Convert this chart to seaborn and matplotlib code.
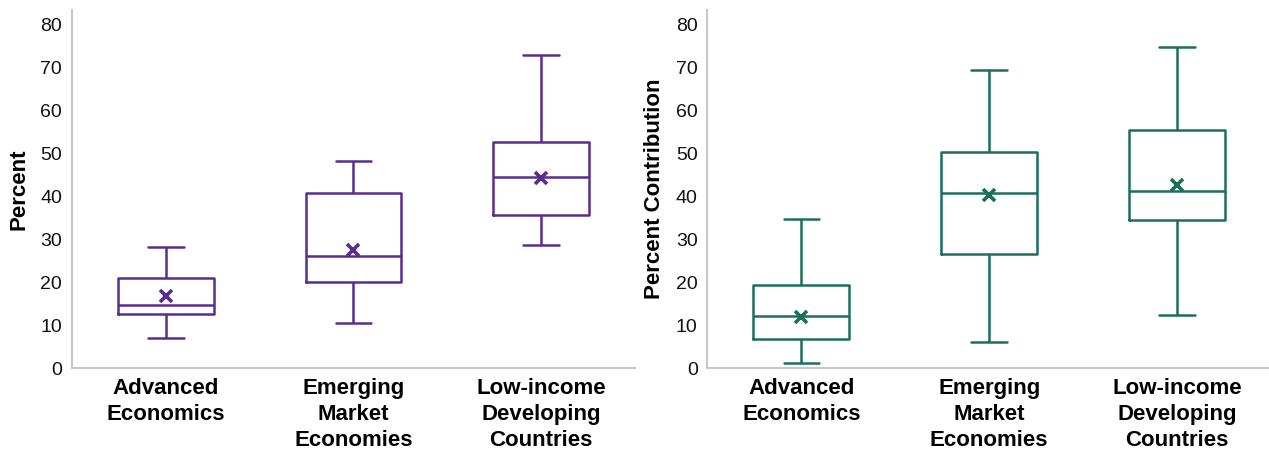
import matplotlib
matplotlib.use("Agg")
import matplotlib.pyplot as plt
import seaborn as sns
import pandas as pd

# Country groups (x-axis)
groups = ["Advanced\nEconomics", "Emerging\nMarket\nEconomies", "Low-income\nDeveloping\nCountries"]

# Left panel: distribution summary (percent)
left_min = [6.9, 10.5, 28.7]
left_q1 = [12.6, 20.0, 35.6]
left_median = [14.8, 26.2, 44.5]
left_q3 = [21.1, 40.9, 52.7]
left_max = [28.3, 48.2, 73.1]
left_mean = [16.9, 27.5, 44.2]

# Right panel: distribution summary (percent contribution)
right_min = [1.1, 6.1, 12.4]
right_q1 = [6.8, 26.6, 34.5]
right_median = [12.2, 40.7, 41.3]
right_q3 = [19.3, 50.4, 55.5]
right_max = [34.7, 69.6, 74.8]
right_mean = [11.8, 40.3, 42.7]

yticks = [0, 10, 20, 30, 40, 50, 60, 70, 80]

purple = "#5B2C8F"
green = "#1B6F5C"
spine_color = "#c8c8c8"

sns.set_style("white")
plt.rcParams["font.family"] = ["Liberation Sans", "DejaVu Sans"]


def summary_frame(mins, q1s, meds, q3s, maxs):
    rows = []
    for g, a, b, c, d, e in zip(groups, mins, q1s, meds, q3s, maxs):
        for v in (a, b, c, d, e):
            rows.append({"group": g, "value": v})
    return pd.DataFrame(rows)


def draw_panel(ax, df, means, color, ylabel):
    sns.boxplot(data=df, x="group", y="value", order=groups, whis=(0, 100),
                width=0.51, fill=False, color=color, linewidth=1.8,
                capwidths=0.19, showfliers=False, ax=ax)
    sns.pointplot(x=groups, y=means, order=groups, linestyle="none",
                  marker="x", color=color, markersize=8, markeredgewidth=2.6,
                  errorbar=None, ax=ax)
    ax.set_xlim(-0.5, 2.5)
    ax.set_ylim(0, 83.5)
    ax.set_yticks(yticks)
    ax.set_xlabel("")
    ax.set_ylabel(ylabel, fontsize=16, fontweight="bold", labelpad=7.5,
                  color="#000000")
    ax.tick_params(axis="y", length=0, pad=7, labelsize=14, labelcolor="#111111")
    ax.tick_params(axis="x", length=0, pad=7, labelsize=16, labelcolor="#000000")
    for lbl in ax.get_xticklabels():
        lbl.set_fontweight("bold")
        lbl.set_linespacing(1.33)
    for side in ("top", "right"):
        ax.spines[side].set_visible(False)
    for side in ("left", "bottom"):
        ax.spines[side].set_color(spine_color)
        ax.spines[side].set_linewidth(1.5)


fig = plt.figure(figsize=(12.69, 4.58), dpi=100)
ax1 = fig.add_axes([0.0567, 0.1965, 0.4437, 0.7817])
ax2 = fig.add_axes([0.5575, 0.1965, 0.4440, 0.7817])

draw_panel(ax1, summary_frame(left_min, left_q1, left_median, left_q3, left_max),
           left_mean, purple, "Percent")
draw_panel(ax2, summary_frame(right_min, right_q1, right_median, right_q3, right_max),
           right_mean, green, "Percent Contribution")

fig.savefig("out.png", dpi=100)
